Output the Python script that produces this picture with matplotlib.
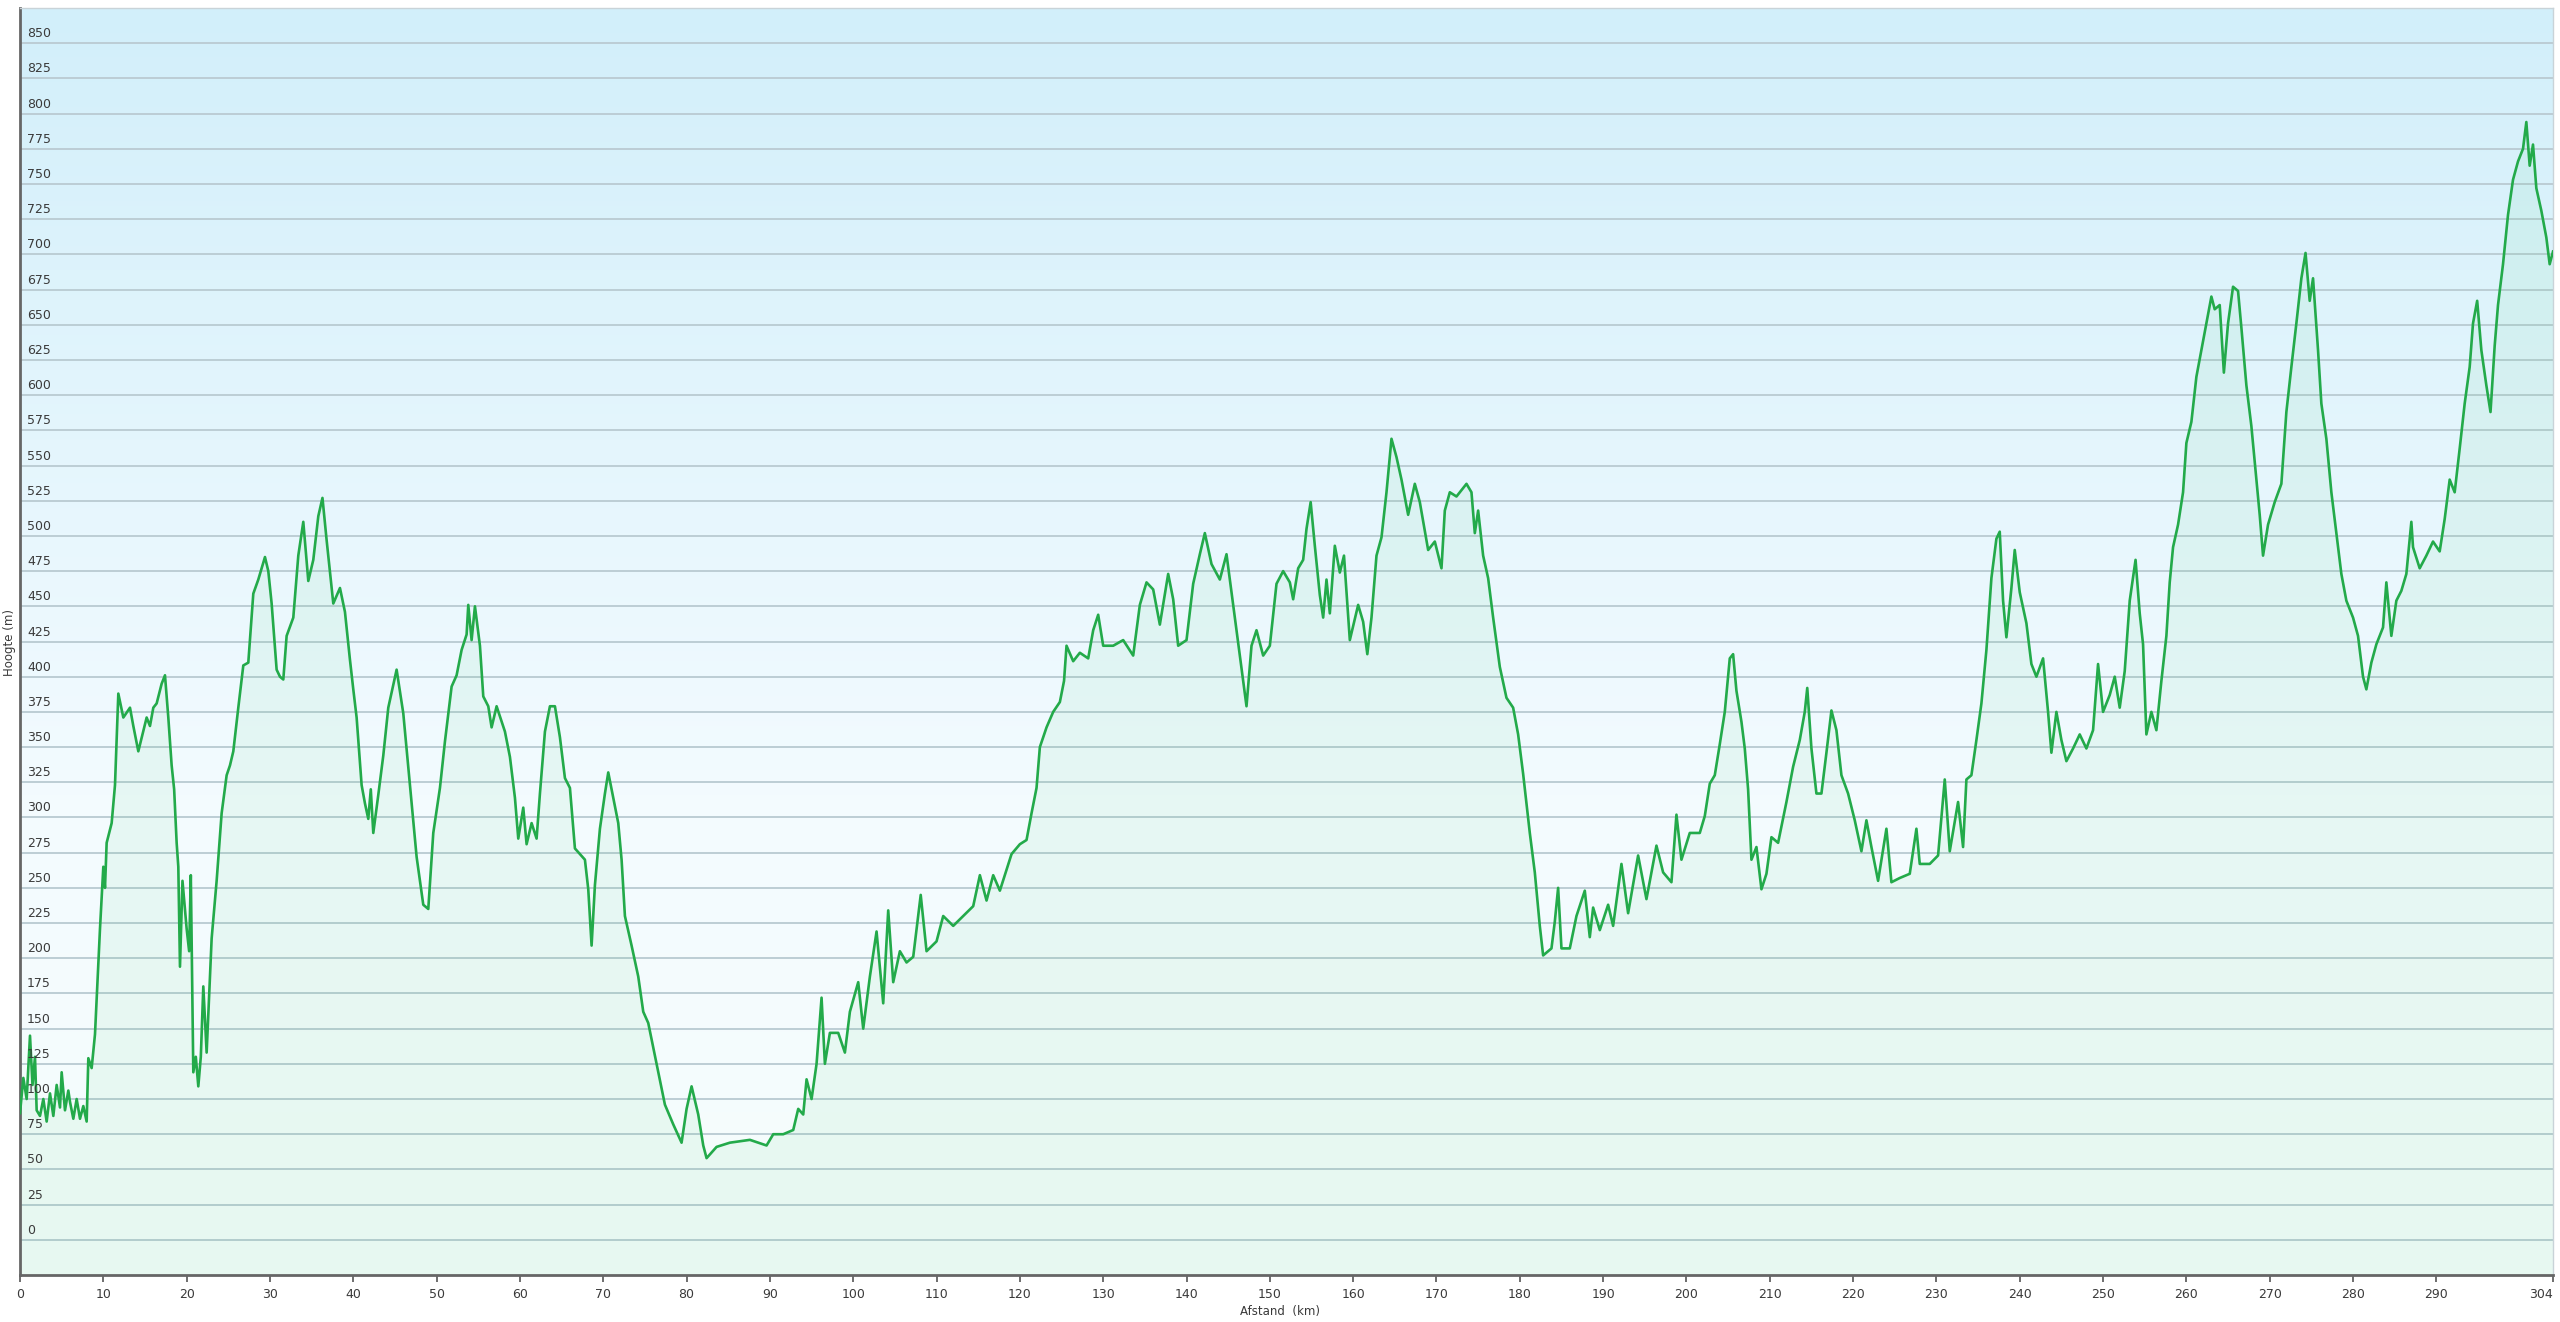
import matplotlib
matplotlib.use("Agg")
import matplotlib.pyplot as plt
from matplotlib.colors import LinearSegmentedColormap
import numpy as np

dist_km = [
    0.0, 0.4, 0.8, 1.2, 1.5, 1.8, 2.0, 2.4, 2.8, 3.2, 3.6, 4.0, 4.4, 4.8, 5.0, 5.4, 5.8, 6.0, 6.4, 6.8,
    7.2, 7.6, 8.0, 8.2, 8.6, 9.0, 9.6, 10.0, 10.2, 10.4, 11.0, 11.4, 11.8, 12.4, 13.2, 13.6, 14.2, 15.2, 15.6, 16.0,
    16.4, 17.0, 17.4, 17.8, 18.2, 18.5, 18.8, 19.0, 19.2, 19.5, 20.0, 20.3, 20.5, 20.8, 21.1, 21.4, 21.7, 22.0, 22.4, 23.0,
    23.6, 24.2, 24.8, 25.2, 25.6, 26.2, 26.8, 27.4, 28.0, 28.6, 29.4, 29.8, 30.2, 30.8, 31.2, 31.6, 32.0, 32.8, 33.4, 34.0,
    34.6, 35.2, 35.8, 36.3, 36.8, 37.6, 38.4, 39.0, 39.6, 40.0, 40.4, 41.0, 41.4, 41.8, 42.1, 42.4, 43.0, 43.6, 44.2, 45.2,
    46.0, 46.8, 47.6, 48.4, 49.0, 49.6,
    50.4, 51.0, 51.8, 52.4, 53.0, 53.6, 53.8, 54.2, 54.6, 55.2, 55.6, 56.2, 56.6, 57.2, 58.2, 58.8, 59.4, 59.8, 60.4, 60.8,
    61.4, 62.0, 62.4, 63.0, 63.6, 64.2, 64.8, 65.4, 66.0, 66.6, 67.2, 67.8, 68.2, 68.6, 69.0, 69.6, 70.2, 70.6, 71.2, 71.8,
    72.2, 72.6, 73.4, 74.2, 74.8, 75.4, 76.4, 77.4, 78.4, 79.4, 80.0, 80.6, 81.4, 82.0, 82.4, 83.6, 85.2, 87.6, 89.6, 90.4,
    91.6, 92.8, 93.4, 94.0, 94.4, 95.0, 95.6, 96.2, 96.6, 97.2, 98.2, 99.0, 99.6, 100.6,
    101.2, 102.0, 102.8, 103.6, 104.2, 104.8, 105.6, 106.4, 107.2, 108.1, 108.8, 110.0, 110.8, 112.0, 113.2, 114.4, 115.2, 116.0, 116.8, 117.6,
    118.4, 119.0, 120.0, 120.8, 121.4, 122.0, 122.4, 123.2, 124.0, 124.8, 125.3, 125.6, 126.4, 127.2, 128.2, 128.8, 129.4, 130.0, 131.2, 132.4,
    133.6, 134.4, 135.2, 136.0, 136.8, 137.8, 138.4, 139.0, 140.0, 140.8, 141.6, 142.2, 143.0, 144.0, 144.8, 145.6, 146.4, 147.2, 147.8, 148.4,
    149.2, 150.0, 150.8, 151.6,
    152.4, 152.8, 153.4, 154.0, 154.4, 154.9, 155.4, 156.0, 156.4, 156.8, 157.2, 157.8, 158.4, 158.9, 159.6, 160.6, 161.2, 161.7, 162.2, 162.8,
    163.4, 164.0, 164.6, 165.2, 165.8, 166.6, 167.4, 168.0, 169.0, 169.8, 170.6, 171.0, 171.6, 172.4, 173.6, 174.2, 174.6, 175.0, 175.6, 176.2,
    176.8, 177.6, 178.4, 179.2, 179.8, 180.4, 181.2, 181.8, 182.4, 182.8, 183.8, 184.2, 184.6, 185.0, 186.0, 186.8, 187.8, 188.4, 188.8, 189.6,
    190.6, 191.2, 192.2, 193.0, 194.2, 195.2, 196.4, 197.2, 198.2, 198.8, 199.4, 200.4,
    201.6, 202.2, 202.8, 203.4, 204.0, 204.6, 205.2, 205.6, 206.0, 206.6, 207.0, 207.4, 207.8, 208.4, 209.0, 209.6, 210.2, 211.0, 212.0, 212.8,
    213.6, 214.2, 214.5, 215.0, 215.6, 216.2, 216.8, 217.4, 218.0, 218.6, 219.4, 220.2, 221.0, 221.6, 222.2, 223.0, 224.0, 224.6, 225.6, 226.8,
    227.6, 228.0, 229.2, 230.2, 231.0, 231.6, 232.6, 233.2, 233.6, 234.2, 234.8, 235.4, 236.0, 236.6, 237.2, 237.6, 238.0, 238.4, 239.0, 239.4,
    240.0, 240.8, 241.4, 242.0, 242.8, 243.4, 243.8, 244.4, 245.0, 245.6, 246.4, 247.2, 248.0, 248.8, 249.4, 250.0, 250.8, 251.4,
    252.0, 252.6, 253.2, 253.9, 254.4, 254.8, 255.2, 255.8, 256.4, 257.0, 257.6, 258.0, 258.4, 259.0, 259.6, 260.0, 260.6, 261.2, 261.8, 262.4,
    263.0, 263.4, 264.0, 264.5, 265.0, 265.6, 266.2, 266.6, 267.2, 267.8, 268.4, 268.8, 269.2, 269.8, 270.6, 271.4, 272.0, 272.6, 273.2, 273.8,
    274.3, 274.8, 275.2, 275.8, 276.2, 276.8, 277.4, 278.0, 278.6, 279.2, 280.0, 280.6, 281.2, 281.6, 282.2, 282.8, 283.6, 284.0, 284.6, 285.2,
    285.8, 286.4, 287.0, 287.2, 288.0, 288.8, 289.6, 290.4, 291.0, 291.6, 292.2, 292.8, 293.4, 294.0, 294.4, 294.9, 295.4, 296.0, 296.5, 297.0,
    297.4, 298.0, 298.6, 299.2, 299.8, 300.4, 300.8, 301.2, 301.6, 302.0, 302.6, 303.2, 303.6, 304.0,
]
hoogte_m = [
    90, 115, 100, 145, 110, 130, 92, 88, 100, 84, 104, 88, 110, 94, 119, 92, 106, 98, 86, 100,
    86, 95, 84, 129, 122, 146, 221, 265, 250, 282, 296, 323, 388, 371, 378, 365, 347, 371, 365, 378,
    381, 395, 401, 371, 337, 320, 282, 265, 194, 255, 221, 205, 259, 119, 130, 109, 130, 180, 133, 214,
    255, 303, 330, 337, 347, 378, 408, 410, 459, 469, 485, 475, 452, 405, 400, 398, 429, 442, 486, 510,
    468, 483, 514, 527, 497, 452, 463, 446, 412, 391, 371, 323, 310, 299, 320, 289, 316, 344, 378, 405,
    374, 323, 272, 238, 235, 289,
    321, 354, 393, 401, 419, 430, 451, 426, 450, 422, 386, 379, 364, 379, 361, 343, 314, 285, 307, 281,
    296, 285, 317, 361, 379, 379, 357, 328, 321, 278, 274, 270, 249, 209, 252, 292, 317, 332, 314, 296,
    270, 230, 209, 187, 162, 154, 125, 96, 82, 69, 93, 109, 89, 67, 58, 66, 69, 71, 67, 75,
    75, 78, 93, 89, 114, 100, 125, 172, 125, 147, 147, 133, 162, 183,
    150, 187, 219, 168, 234, 183, 205, 197, 201, 245, 205, 212, 230, 223, 230, 237, 259, 241, 259, 248,
    263, 274, 281, 284, 303, 321, 350, 364, 375, 382, 397, 422, 411, 417, 413, 433, 444, 422, 422, 426,
    415, 451, 467, 462, 437, 473, 455, 422, 426, 466, 487, 502, 480, 469, 487, 451, 415, 379, 422, 433,
    415, 422, 466, 475,
    467, 455, 477, 483, 505, 524, 493, 458, 442, 469, 445, 493, 474, 486, 426, 451, 439, 416, 442, 486,
    499, 531, 569, 556, 540, 515, 537, 524, 490, 496, 477, 518, 531, 528, 537, 531, 502, 518, 486, 470,
    442, 407, 385, 378, 359, 331, 289, 261, 223, 202, 207, 226, 250, 207, 207, 230, 248, 215, 236, 220,
    238, 223, 267, 232, 273, 242, 280, 261, 254, 302, 270, 289,
    289, 301, 324, 330, 352, 375, 413, 416, 390, 368, 349, 320, 270, 279, 249, 260, 286, 282, 311, 336,
    355, 375, 392, 349, 317, 317, 346, 376, 362, 330, 317, 298, 276, 298, 279, 255, 292, 254, 257, 260,
    292, 267, 267, 273, 327, 276, 311, 279, 327, 330, 355, 381, 419, 470, 498, 503, 454, 428, 463, 490,
    460, 438, 409, 400, 413, 375, 346, 375, 355, 340, 349, 359, 349, 362, 409, 375, 387, 400,
    378, 404, 454, 483, 445, 423, 359, 375, 362, 397, 429, 467, 492, 508, 531, 566, 581, 613, 632, 651,
    670, 661, 664, 616, 651, 677, 674, 648, 607, 578, 540, 515, 486, 508, 524, 537, 588, 620, 651, 683,
    701, 667, 683, 632, 594, 569, 531, 502, 473, 454, 442, 429, 400, 391, 410, 423, 435, 467, 429, 454,
    461, 473, 510, 492, 477, 486, 496, 489, 512, 540, 531, 562, 594, 620, 651, 667, 632, 607, 588, 635,
    664, 693, 728, 753, 766, 775, 794, 763, 778, 747, 731, 712, 693, 702,
]

y_ticks = list(range(0, 851, 25))
x_ticks = list(range(0, 291, 10)) + [304]

fig = plt.figure(figsize=(25.6, 13.22), dpi=100)
ax = fig.add_axes([20 / 2560, 1 - 1275 / 1322, 2533 / 2560, 1267 / 1322])

# achtergrond: verloop van lichtblauw naar wit
bg = LinearSegmentedColormap.from_list("bg", [(0.0, "#d2effa"), (0.62, "#f3fbff"), (1.0, "#f6fdfc")])
grad = np.linspace(0, 1, 256).reshape(-1, 1)
ax.imshow(grad, cmap=bg, aspect="auto", extent=[0, 304, -25, 875], origin="upper", zorder=0)

ax.fill_between(dist_km, hoogte_m, -25, color="#3cc96a", alpha=0.07, lw=0, zorder=1)
ax.plot(dist_km, hoogte_m, color="#23aa4a", lw=1.9, zorder=3)

ax.set_xlim(0, 304)
ax.set_ylim(-25, 875)

ax.set_yticks(y_ticks)
ax.set_yticklabels([])
ax.tick_params(axis="y", length=0)
ax.grid(axis="y", color="#bccdd4", lw=1.4, zorder=0.5)
ax.set_axisbelow(True)
for v in y_ticks:
    ax.annotate(str(v), xy=(0, v), xycoords=("axes fraction", "data"),
                xytext=(7, 3), textcoords="offset pixels",
                fontsize=9, color="#3a3a3a", va="bottom", ha="left", zorder=4)

ax.set_xticks(x_ticks)
ax.set_xticklabels([str(t) for t in x_ticks], fontsize=9, color="#3a3a3a")
ax.get_xticklabels()[-1].set_ha("right")
ax.tick_params(axis="x", direction="out", length=5, width=1.2, color="#555555", pad=4)

for side in ["left", "bottom"]:
    ax.spines[side].set_color("#666666")
    ax.spines[side].set_linewidth(2)
for side in ["top", "right"]:
    ax.spines[side].set_color("#c9d3d8")
    ax.spines[side].set_linewidth(1)

fig.text(10 / 2560, 1 - 643 / 1322, "Hoogte (m)", rotation=90, fontsize=8.5,
         color="#3a3a3a", ha="center", va="center")
fig.text(0.5, 1 - 1312 / 1322, "Afstand  (km)", fontsize=8.5,
         color="#3a3a3a", ha="center", va="center")

fig.savefig("out.png", dpi=100, facecolor="white")
